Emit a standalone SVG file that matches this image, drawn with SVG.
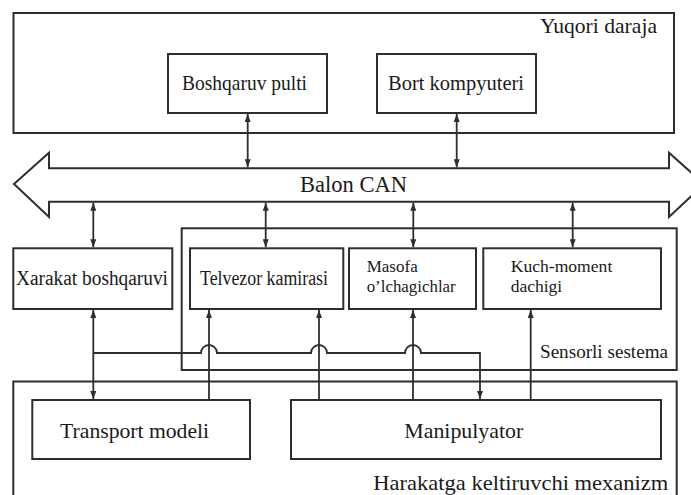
<svg xmlns="http://www.w3.org/2000/svg" width="691" height="495" viewBox="0 0 691 495">
<style>
.box{fill:none;stroke:#2e2e2e;stroke-width:2}
.nb{fill:#fff;stroke:#2e2e2e;stroke-width:2}
.c{fill:none;stroke:#2e2e2e;stroke-width:1.8}
text{font-family:"Liberation Serif","Times New Roman",serif;fill:#1a1a1a}
</style>
<defs>
<marker id="ah" viewBox="0 0 8 6" refX="8" refY="3" markerWidth="8" markerHeight="6" markerUnits="userSpaceOnUse" orient="auto-start-reverse">
<path d="M0,0 L8,3 L0,6 z" fill="#2e2e2e"/>
</marker>
</defs>
<rect width="691" height="495" fill="#fff"/>

<g id="yuqori-daraja">
<rect class="box" x="13.5" y="13" width="660.5" height="120"/>
<text x="657" y="33" font-size="21" text-anchor="end" textLength="117" lengthAdjust="spacingAndGlyphs">Yuqori daraja</text>
</g>
<g id="boshqaruv-pulti">
<rect class="nb" x="168" y="54" width="159" height="59"/>
<text x="244.5" y="90.3" font-size="22" text-anchor="middle" textLength="125" lengthAdjust="spacingAndGlyphs">Boshqaruv pulti</text>
</g>
<g id="bort-kompyuteri">
<rect class="nb" x="377" y="54" width="159" height="59"/>
<text x="456" y="90" font-size="22" text-anchor="middle" textLength="136" lengthAdjust="spacingAndGlyphs">Bort kompyuteri</text>
</g>
<g id="balon-can">
<polygon class="nb" points="14,184 49,152.7 49,168.3 669,168.3 669,152.7 704,184 669,217 669,201.7 49,201.7 49,217"/>
<text x="353.5" y="191.5" font-size="22.5" text-anchor="middle" textLength="107" lengthAdjust="spacingAndGlyphs">Balon CAN</text>
</g>
<g id="sensorli-sestema">
<rect class="box" x="181.7" y="228.3" width="495" height="141.7"/>
<text x="668" y="358.3" font-size="18" text-anchor="end" textLength="128" lengthAdjust="spacingAndGlyphs">Sensorli sestema</text>
</g>
<g id="xarakat-boshqaruvi">
<rect class="nb" x="13.3" y="248.3" width="159" height="60.7"/>
<text x="92" y="285" font-size="20" text-anchor="middle" textLength="152" lengthAdjust="spacingAndGlyphs">Xarakat boshqaruvi</text>
</g>
<g id="telvezor-kamirasi">
<rect class="nb" x="190" y="248.3" width="153.3" height="60.7"/>
<text x="264" y="285" font-size="20" text-anchor="middle" textLength="128" lengthAdjust="spacingAndGlyphs">Telvezor kamirasi</text>
</g>
<g id="masofa">
<rect class="nb" x="349" y="248.3" width="127" height="60.7"/>
<text x="366.7" y="271.7" font-size="17">Masofa</text>
<text x="366.7" y="291.7" font-size="17" textLength="89" lengthAdjust="spacingAndGlyphs">o’lchagichlar</text>
</g>
<g id="kuch-moment">
<rect class="nb" x="483.3" y="248.3" width="177.7" height="60.7"/>
<text x="510.7" y="271.7" font-size="17.5" textLength="101.6" lengthAdjust="spacingAndGlyphs">Kuch-moment</text>
<text x="510.7" y="291.7" font-size="17.5">dachigi</text>
</g>
<g id="harakatga">
<path class="box" d="M13.3,500 V381.5 H676.7 V500"/>
<text x="668.3" y="490" font-size="21.5" text-anchor="end" textLength="295" lengthAdjust="spacingAndGlyphs">Harakatga keltiruvchi mexanizm</text>
</g>
<g id="transport-modeli">
<rect class="nb" x="32.3" y="400" width="217.7" height="59"/>
<text x="134.6" y="438" font-size="21.5" text-anchor="middle" textLength="149" lengthAdjust="spacingAndGlyphs">Transport modeli</text>
</g>
<g id="manipulyator">
<rect class="nb" x="291" y="400" width="370" height="59"/>
<text x="463.8" y="438" font-size="22" text-anchor="middle" textLength="119" lengthAdjust="spacingAndGlyphs">Manipulyator</text>
</g>

<g id="connectors">
<line class="c" x1="247.7" y1="114" x2="247.7" y2="167.3" marker-start="url(#ah)" marker-end="url(#ah)"/>
<line class="c" x1="456.7" y1="114" x2="456.7" y2="167.3" marker-start="url(#ah)" marker-end="url(#ah)"/>
<line class="c" x1="93.3" y1="202.7" x2="93.3" y2="247.3" marker-start="url(#ah)" marker-end="url(#ah)"/>
<line class="c" x1="265.7" y1="202.7" x2="265.7" y2="247.3" marker-start="url(#ah)" marker-end="url(#ah)"/>
<line class="c" x1="413.3" y1="202.7" x2="413.3" y2="247.3" marker-start="url(#ah)" marker-end="url(#ah)"/>
<line class="c" x1="572.7" y1="202.7" x2="572.7" y2="247.3" marker-start="url(#ah)" marker-end="url(#ah)"/>
<line class="c" x1="93.3" y1="310" x2="93.3" y2="399" marker-start="url(#ah)" marker-end="url(#ah)"/>
<path class="c" d="M93.3,353 H201 A8,8 0 0 1 217,353 H311 A8,8 0 0 1 327,353 H405 A8,8 0 0 1 421,353 H480 V399" marker-end="url(#ah)"/>
<line class="c" x1="209" y1="400" x2="209" y2="310" marker-end="url(#ah)"/>
<line class="c" x1="319" y1="400" x2="319" y2="310" marker-end="url(#ah)"/>
<line class="c" x1="413" y1="400" x2="413" y2="310" marker-end="url(#ah)"/>
<line class="c" x1="530.7" y1="400" x2="530.7" y2="310" marker-end="url(#ah)"/>
</g>
</svg>
